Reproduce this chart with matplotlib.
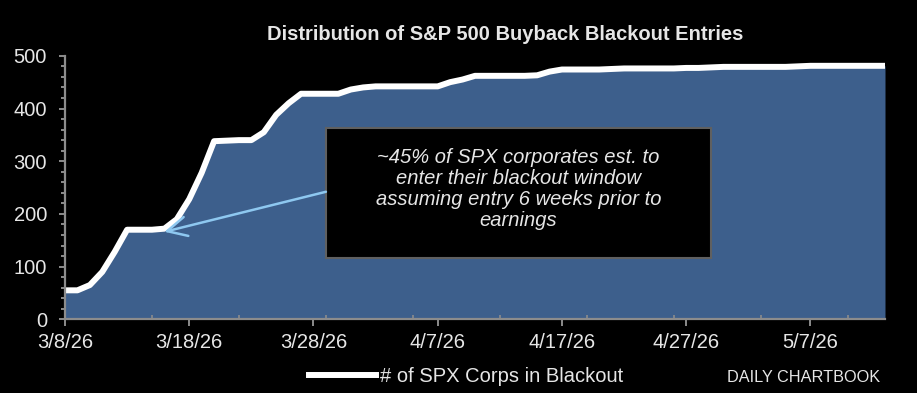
import numpy as np
import matplotlib.pyplot as plt
import matplotlib.dates as mdates
from matplotlib.patches import Rectangle
from matplotlib.ticker import MultipleLocator, FixedLocator
import datetime as dt

# datos (valor diario desde 3/8/26)
inicio = dt.date(2026, 3, 8)
valores = [55, 55, 65, 90, 128, 170, 170, 170, 172, 190,
           228, 278, 338, 339, 340, 340, 355, 388, 410, 428,
           428, 428, 428, 436, 440, 442, 442, 442, 442, 442,
           442, 450, 455, 462, 462, 462, 462, 462, 463, 470,
           474, 474, 474, 474, 475, 476, 476, 476, 476, 476,
           477, 477, 478, 479, 479, 479, 479, 479, 479, 480,
           481, 481, 481, 481, 481, 481, 481]
fechas = [inicio + dt.timedelta(days=i) for i in range(len(valores))]
fechas_etiqueta = fechas[::10]

titulo = "Distribution of S&P 500 Buyback Blackout Entries"
serie = "# of SPX Corps in Blackout"
nota = ("~45% of SPX corporates est. to\nenter their blackout window\n"
        "assuming entry 6 weeks prior to\nearnings")

gris = "#8c8c8c"
azul = "#3d5f8c"
texto = "#e6e6e6"
fuente = ["Liberation Sans", "DejaVu Sans"]

fig = plt.figure(figsize=(9.17, 3.93), dpi=100, facecolor="black")
ax = fig.add_axes([65 / 917, 0.1875, 820 / 917, 0.6705])
ax.set_facecolor("black")

ax.fill_between(fechas, valores, color=azul, lw=0)
linea, = ax.plot(fechas, valores, color="white", lw=4.3, solid_joinstyle="round")

ax.set_xlim(fechas[0], fechas[-1])
ax.set_ylim(0, 500)

ax.xaxis.set_major_locator(FixedLocator(mdates.date2num(fechas_etiqueta)))
ax.xaxis.set_major_formatter(mdates.DateFormatter("%-m/%-d/%y"))
ax.xaxis.set_minor_locator(mdates.WeekdayLocator(byweekday=mdates.SU))
ax.yaxis.set_major_locator(MultipleLocator(100))
ax.yaxis.set_minor_locator(MultipleLocator(20))

for lado in ["top", "right"]:
    ax.spines[lado].set_visible(False)
for lado in ["left", "bottom"]:
    ax.spines[lado].set_color(gris)
    ax.spines[lado].set_linewidth(1.6)
    ax.spines[lado].set_zorder(5)

ax.tick_params(axis="x", which="major", direction="out", length=5, width=1.4, color=gris,
               labelcolor=texto, labelsize=14.5, pad=5)
ax.tick_params(axis="x", which="minor", direction="in", length=3, width=1.2, color=gris)
ax.tick_params(axis="y", which="both", direction="out", color=gris, width=1.4,
               labelcolor=texto, labelsize=14.5)
ax.tick_params(axis="y", which="major", length=4, pad=9)
ax.tick_params(axis="y", which="minor", length=3)
for t in ax.get_xticklabels() + ax.get_yticklabels():
    t.set_family(fuente)

# caja de anotacion
x0 = mdates.date2num(inicio + dt.timedelta(days=21.07))
x1 = mdates.date2num(inicio + dt.timedelta(days=52.07))
ax.add_patch(Rectangle((x0, 116), x1 - x0, 247, facecolor="black",
                       edgecolor="#606060", lw=1.5, zorder=6))
ax.text((x0 + x1) / 2, 247, nota, color=texto, fontsize=14.5, style="italic",
        ha="center", va="center", linespacing=1.12, zorder=7, family=fuente)
ax.annotate("", xy=(mdates.date2num(inicio + dt.timedelta(days=8.8)), 166),
            xytext=(x0, 242),
            arrowprops=dict(arrowstyle="->,head_length=1.4,head_width=0.7",
                            color="#8ec8f0", lw=1.8, shrinkA=0, shrinkB=0), zorder=7)

fig.text(505 / 917, 1 - 34 / 393, titulo, color=texto, fontsize=14.5,
         fontweight="bold", ha="center", va="center", family=fuente)

fig.legend([linea], [serie], loc="center", bbox_to_anchor=(466 / 917, 1 - 377 / 393),
           frameon=False, handlelength=3.3, handletextpad=0.2,
           labelcolor=texto, prop={"family": fuente, "size": 14.5})
fig.text(880 / 917, 1 - 377 / 393, "DAILY CHARTBOOK", color=texto, fontsize=11.7,
         ha="right", va="center", family=fuente)

fig.savefig("out.png", dpi=100, facecolor="black")
